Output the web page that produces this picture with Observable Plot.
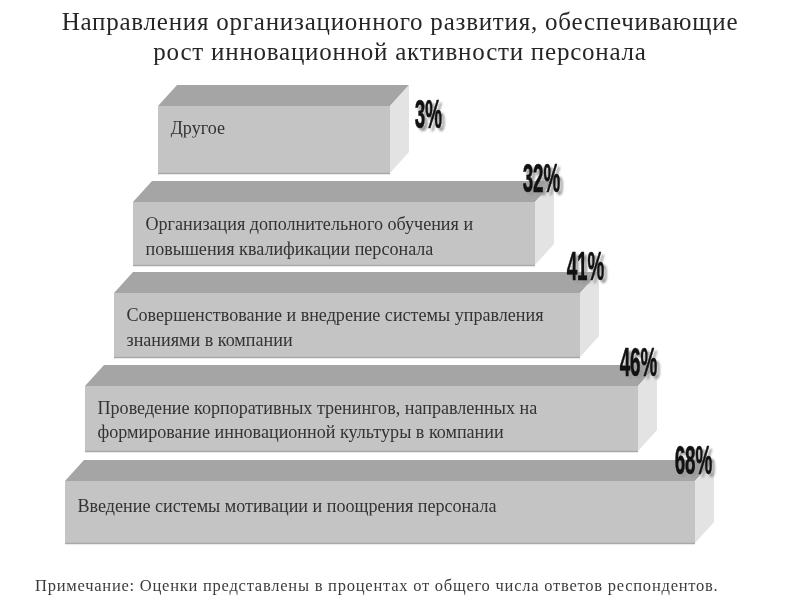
<!DOCTYPE html>
<html lang="ru">
<head>
<meta charset="utf-8">
<script src="https://cdn.jsdelivr.net/npm/d3@7"></script>
<script src="https://cdn.jsdelivr.net/npm/@observablehq/plot@0.6"></script>
<style>
  html, body { margin: 0; padding: 0; background: #fff; width: 800px; height: 600px; overflow: hidden; }
  #title { height: 72px; box-sizing: border-box; padding-top: 7px; text-align: center; font: 25px/30px "Liberation Serif", serif; color: #262626; letter-spacing: 0.77px; white-space: nowrap; filter: blur(0.3px); }
  #chart svg { display: block; }
  #note { position: absolute; left: 35px; top: 575px; font: 16.5px/22px "Liberation Serif", serif; color: #3c3c3c; letter-spacing: 0.76px; white-space: nowrap; filter: blur(0.3px); }
  .pct { filter: drop-shadow(3px 3px 1px #9a9a9a); }
  .lbl { filter: blur(0.3px); }
</style>
</head>
<body>
<div id="title">Направления организационного развития, обеспечивающие<br>рост инновационной активности персонала</div>
<div id="chart"></div>
<div id="note">Примечание: Оценки представлены в процентах от общего числа ответов респондентов.</div>
<script>
// In the drawing's own units (the source has no axis).
const categories = [
  "Другое",
  "Организация дополнительного обучения и\nповышения квалификации персонала",
  "Совершенствование и внедрение системы управления\nзнаниями в компании",
  "Проведение корпоративных тренингов, направленных на\nформирование инновационной культуры в компании",
  "Введение системы мотивации и поощрения персонала"
];
const percents = [3, 32, 41, 46, 68];
const barFrom = [158, 133, 114, 85, 65];
const barTo = [390, 535, 580, 638, 695];
const levelTop = [106, 202, 293, 386, 481];
const levelBottom = [173, 265, 357, 451, 543];
const textMiddle = [125, 234, 325, 417.5, 503];
const percentX = [428, 541, 585, 638, 693];
const percentY = [114, 178, 266, 362, 460];
const depthX = 19;
const depthY = 21;

const bars = categories.map((name, i) => ({
  name, label: percents[i] + "%",
  x1: barFrom[i], x2: barTo[i], top: levelTop[i], bottom: levelBottom[i],
  textX: barFrom[i], textY: textMiddle[i], pX: percentX[i], pY: percentY[i]
}));

// Top and side faces as areas between two edges
const topFaces = bars.flatMap((b, id) => [
  {id, x: b.x1, y1: b.top, y2: b.top},
  {id, x: b.x1 + depthX, y1: b.top, y2: b.top - depthY},
  {id, x: b.x2, y1: b.top, y2: b.top - depthY},
  {id, x: b.x2 + depthX, y1: b.top - depthY, y2: b.top - depthY}
]);
const sideFaces = bars.flatMap((b, id) => [
  {id, x: b.x2, y1: b.bottom, y2: b.top},
  {id, x: b.x2 + depthX, y1: b.bottom - depthY, y2: b.top - depthY}
]);

const plot = Plot.plot({
  width: 800, height: 495,
  marginTop: 0, marginRight: 0, marginBottom: 0, marginLeft: 0,
  x: {domain: [0, 800], range: [0, 800], axis: null},
  y: {domain: [72, 567], range: [0, 495], axis: null},
  style: {background: "transparent"},
  marks: [
    Plot.area(topFaces, {x1: "x", y1: "y1", y2: "y2", z: "id", fill: "#a5a5a5"}),
    Plot.area(sideFaces, {x1: "x", y1: "y1", y2: "y2", z: "id", fill: "#e3e3e3"}),
    Plot.rect(bars, {x1: "x1", x2: "x2", y1: "top", y2: "bottom", fill: "#c4c4c4"}),
    Plot.ruleY(bars, {x1: "x1", x2: "x2", y: "bottom", stroke: "#a8a8a8", strokeWidth: 1.5}),
    Plot.text(bars, {x: "textX", y: "textY", text: "name", dx: 12, textAnchor: "start", lineAnchor: "middle",
      lineHeight: 1.38, fontFamily: "Liberation Serif", fontSize: 18.1, fill: "#333", className: "lbl"}),
    Plot.text(bars, {x: "pX", y: "pY", text: "label", fontFamily: "Liberation Sans",
      fontWeight: "bold", fontSize: 41, fill: "#111", stroke: "#111", strokeWidth: 0.6, className: "pct"})
  ]
});
document.getElementById("chart").append(plot);
// The reference's percent labels use a very condensed display face
d3.select(plot).selectAll(".pct text").attr("transform", function () {
  return (this.getAttribute("transform") || "") + " scale(0.46,1)";
});
</script>
</body>
</html>
